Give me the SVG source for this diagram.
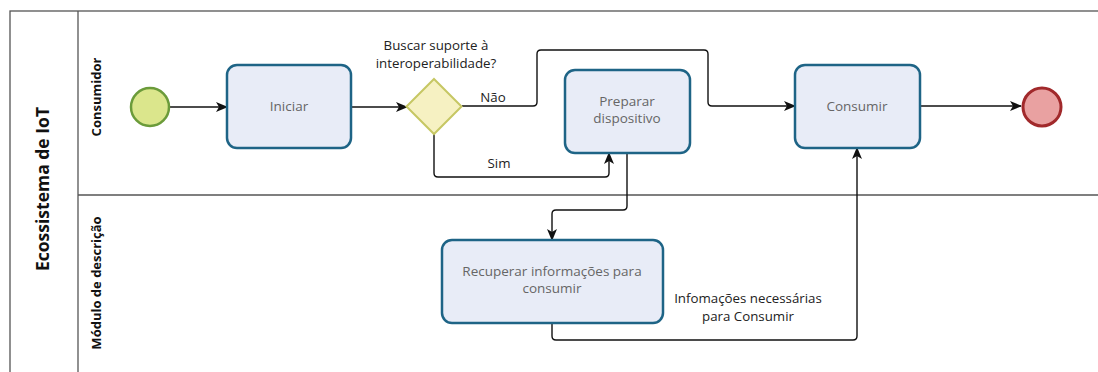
<svg xmlns="http://www.w3.org/2000/svg" width="1098" height="372" viewBox="0 0 1098 372">
<defs>
<style>
.lane{fill:none;stroke:#555;stroke-width:1.3}
.task{fill:#e8ecf7;stroke:#1e6486;stroke-width:2.5}
.ttxt{font-family:"Open Sans","Noto Sans",sans-serif;font-size:13.5px;fill:#666;text-anchor:middle}
.lbl{font-family:"Open Sans","Noto Sans",sans-serif;font-size:13.3px;fill:#222;text-anchor:middle}
.hdr{font-family:"Open Sans","Noto Sans",sans-serif;font-weight:bold;fill:#111;text-anchor:middle}
.flow{fill:none;stroke:#111;stroke-width:1.4;marker-end:url(#ah)}
</style>
<marker id="ah" viewBox="0 0 12 10" refX="11" refY="5" markerWidth="12" markerHeight="10" markerUnits="userSpaceOnUse" orient="auto">
<path d="M0,0 L12,5 L0,10 L3,5 Z" fill="#111"/>
</marker>
</defs>
<rect width="1098" height="372" fill="#fff"/>
<g id="pool">
<rect class="lane" x="10" y="11" width="1095" height="365"/>
<line class="lane" x1="78" y1="11" x2="78" y2="372"/>
<line class="lane" x1="78" y1="195" x2="1098" y2="195"/>
<text class="hdr" font-size="17.5" transform="translate(49,189) rotate(-90)">Ecossistema de IoT</text>
</g>
<g id="lane-consumidor">
<text class="hdr" font-size="13" transform="translate(101,97) rotate(-90)">Consumidor</text>
</g>
<g id="lane-modulo">
<text class="hdr" font-size="13" transform="translate(101,283) rotate(-90)">Módulo de descrição</text>
</g>
<g id="connectors">
<path class="flow" d="M170,107 H227"/>
<path class="flow" d="M351,107 H407"/>
<path class="flow" d="M462,106 H533 Q537,106 537,102 V54 Q537,50 541,50 H704 Q708,50 708,54 V102 Q708,106 712,106 H795"/>
<path class="flow" d="M434,134 V173 Q434,177 438,177 H605 Q609,177 609,173 V153"/>
<path class="flow" d="M627,153 V206 Q627,210 623,210 H556 Q552,210 552,214 V240"/>
<path class="flow" d="M552,323 V336 Q552,340 556,340 H853 Q857,340 857,336 V148"/>
<path class="flow" d="M920,106 H1021"/>
<text class="lbl" x="493" y="102">Não</text>
<text class="lbl" x="499" y="168">Sim</text>
<text class="lbl" x="748" y="303">Infomações necessárias</text>
<text class="lbl" x="748" y="321">para Consumir</text>
</g>
<g id="start">
<circle cx="150" cy="107" r="19" fill="#dbe68c" stroke="#6b9b3a" stroke-width="2.5"/>
</g>
<g id="iniciar">
<rect class="task" x="227" y="65" width="124" height="83" rx="10"/>
<text class="ttxt" x="289" y="111">Iniciar</text>
</g>
<g id="gateway">
<path d="M434,79 L461.5,106.5 L434,134 L406.5,106.5 Z" fill="#f6f1c2" stroke="#c6c763" stroke-width="2"/>
<text class="lbl" x="436" y="50">Buscar suporte à</text>
<text class="lbl" x="436" y="68">interoperabilidade?</text>
</g>
<g id="preparar">
<rect class="task" x="565" y="70" width="125" height="83" rx="10"/>
<text class="ttxt" x="627" y="106">Preparar</text>
<text class="ttxt" x="627" y="123">dispositivo</text>
</g>
<g id="consumir">
<rect class="task" x="795" y="65" width="125" height="83" rx="10"/>
<text class="ttxt" x="857" y="111">Consumir</text>
</g>
<g id="recuperar">
<rect class="task" x="442" y="240" width="221" height="83" rx="10"/>
<text class="ttxt" x="552" y="276">Recuperar informações para</text>
<text class="ttxt" x="552" y="293">consumir</text>
</g>
<g id="end">
<circle cx="1042" cy="107" r="19" fill="#e9a1a1" stroke="#a1292b" stroke-width="3"/>
</g>
</svg>
